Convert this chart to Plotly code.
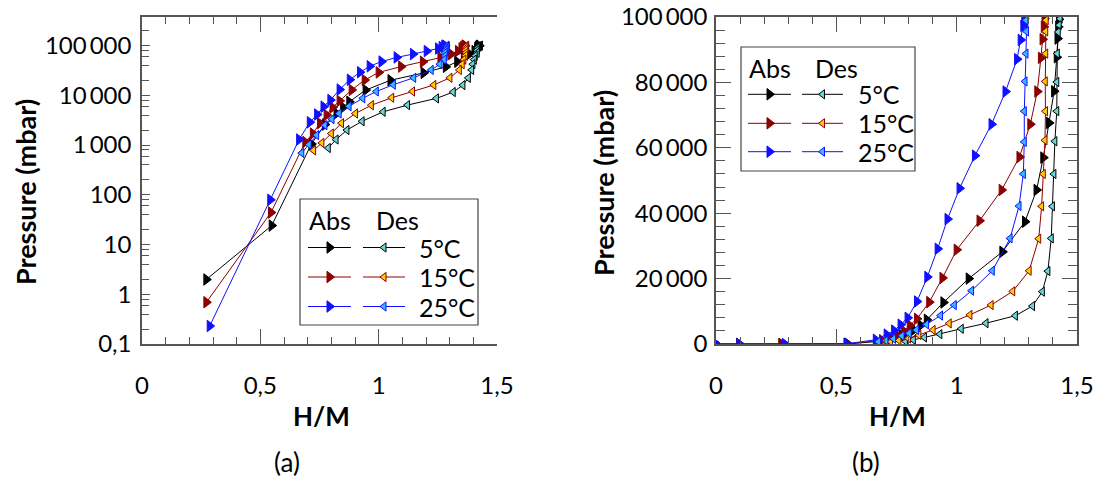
import plotly.graph_objects as go

W, H = 1095, 477
FONT = "Lato"

# ---------------- data (H/M, pressure in mbar) ----------------
abs5_x = [0.0, 0.097, 0.272, 0.548, 0.716, 0.773, 0.822, 0.850, 0.876, 0.945, 1.050, 1.190, 1.284, 1.332, 1.360, 1.384, 1.405, 1.416, 1.419, 1.422, 1.425]
abs5_p = [0, 0, 1.98, 24, 1050, 2570, 4300, 5700, 7400, 12700, 20000, 28200, 37400, 47100, 57000, 67600, 77300, 87700, 93400, 97000, 99300]

abs15_x = [0.0, 0.097, 0.272, 0.545, 0.690, 0.722, 0.752, 0.780, 0.805, 0.835, 0.886, 0.941, 1.000, 1.095, 1.187, 1.261, 1.306, 1.335, 1.350, 1.357, 1.362, 1.365]
abs15_p = [0, 0, 0.69, 44, 1150, 1700, 2750, 4000, 5700, 7700, 12800, 20200, 28800, 37700, 47100, 57200, 67200, 77200, 87500, 93200, 97000, 99500]

abs25_x = [0.0, 0.097, 0.286, 0.542, 0.664, 0.709, 0.740, 0.767, 0.796, 0.835, 0.878, 0.921, 0.962, 1.012, 1.076, 1.145, 1.203, 1.251, 1.266, 1.277, 1.281]
abs25_p = [0, 0, 0.23, 79, 1290, 2870, 4100, 5900, 8000, 13000, 20500, 29100, 38200, 47600, 57600, 67200, 77200, 87100, 93000, 97300, 99500]

des5_x = [1.430, 1.426, 1.422, 1.418, 1.416, 1.416, 1.408, 1.404, 1.398, 1.393, 1.379, 1.356, 1.315, 1.244, 1.122, 1.019, 0.930, 0.866, 0.820, 0.787]
des5_p = [99500, 97500, 95400, 88800, 80100, 71200, 62000, 52000, 42100, 32300, 22300, 16000, 11600, 8650, 6350, 4650, 3000, 2000, 1290, 870]

des15_x = [1.372, 1.370, 1.370, 1.368, 1.369, 1.367, 1.360, 1.353, 1.341, 1.301, 1.233, 1.143, 1.055, 0.969, 0.902, 0.843, 0.800, 0.760, 0.725]
des15_p = [99000, 95600, 88800, 80300, 71200, 62300, 52000, 42100, 32200, 22400, 16100, 11900, 8900, 6300, 4300, 2750, 1700, 1100, 780]

des25_x = [1.288, 1.290, 1.288, 1.284, 1.281, 1.281, 1.277, 1.259, 1.222, 1.148, 1.062, 0.990, 0.933, 0.875, 0.833, 0.803, 0.773, 0.738, 0.706, 0.675]
des25_p = [99000, 95600, 88800, 80300, 71200, 61800, 52000, 42200, 32300, 22400, 16300, 11900, 8700, 6000, 4300, 3300, 2500, 1580, 1020, 690]

temps = ["5°C", "15°C", "25°C"]

x_tickvals = [0, 0.5, 1, 1.5]
x_ticktext = ["0", "0,5", "1", "1,5"]
logy_tickvals = [0.1, 1, 10, 100, 1000, 10000, 100000]
logy_ticktext = ["0,1", "1", "10", "100", "1\u2009000", "10\u2009000", "100\u2009000"]
liny_tickvals = [0, 20000, 40000, 60000, 80000, 100000]
liny_ticktext = ["0", "20\u2009000", "40\u2009000", "60\u2009000", "80\u2009000", "100\u2009000"]

# ---------------- style ----------------
BLACK, RED, BLUE = "#000000", "#8b0000", "#1010ff"
CYAN, YELLOW, LBLUE = "#66d6d6", "#ffcc00", "#33bbff"
AX = "#555555"

series = [
    (abs5_x, abs5_p, BLACK, BLACK, "triangle-right", 10),
    (abs15_x, abs15_p, RED, RED, "triangle-right", 10),
    (abs25_x, abs25_p, BLUE, BLUE, "triangle-right", 10),
    (des5_x, des5_p, BLACK, CYAN, "triangle-left", 8),
    (des15_x, des15_p, RED, YELLOW, "triangle-left", 8),
    (des25_x, des25_p, BLUE, LBLUE, "triangle-left", 8),
]

def px(xp):
    return xp / W

def py(yp):
    return 1 - yp / H

# plot frames in px
L_X0, L_X1, TOP, BOT = 142, 497, 17, 344
R_X0, R_X1 = 716, 1077

fig = go.Figure()

for xs, ps, lc, fc, sym, sz in series:
    # log panel: only positive pressures can be shown
    pos = [(a, b) for a, b in zip(xs, ps) if b > 0]
    panels = [("x", "y", [a for a, _ in pos], [b for _, b in pos]),
              ("x2", "y2", xs, ps)]
    for xa, ya, xv, yv in panels:
        fig.add_trace(go.Scatter(
            x=xv, y=yv, xaxis=xa, yaxis=ya, mode="lines+markers",
            line=dict(color=lc, width=1),
            marker=dict(symbol=sym, size=sz, color=fc, line=dict(color=lc, width=1)),
            showlegend=False, hoverinfo="skip"))

# ---------------- legends (drawn in a pixel-space overlay) ----------------
legends = [
    dict(box=(300, 199, 478, 325), head_y=220, abs_x=307, des_x=374,
         rows=[247.5, 277, 306.5], aline=(308, 351), dline=(363, 405), lab_x=417),
    dict(box=(741, 47, 915, 171), head_y=68, abs_x=747, des_x=813,
         rows=[94.3, 123.3, 151.7], aline=(748, 791), dline=(802, 843), lab_x=856),
]
abs_styles = [(BLACK, BLACK), (RED, RED), (BLUE, BLUE)]
des_styles = [(BLACK, CYAN), (RED, YELLOW), (BLUE, LBLUE)]

shapes = []
annotations = []
leg_font = dict(family=FONT, size=25, color="black")
for lg in legends:
    x0, y0, x1, y1 = lg["box"]
    shapes.append(dict(type="rect", xref="paper", yref="paper",
                       x0=px(x0), x1=px(x1), y0=py(y1), y1=py(y0),
                       line=dict(color="#444444", width=1.2), fillcolor="white", layer="below"))
    for txt, xx in (("Abs", lg["abs_x"]), ("Des", lg["des_x"])):
        annotations.append(dict(text=txt, x=px(xx), y=py(lg["head_y"]), xref="paper", yref="paper",
                                xanchor="left", yanchor="middle", showarrow=False, font=leg_font))
    for i, ry in enumerate(lg["rows"]):
        for (a, b), (lc, fc), sym, sz in ((lg["aline"], abs_styles[i], "triangle-right", 10),
                                          (lg["dline"], des_styles[i], "triangle-left", 8)):
            fig.add_trace(go.Scatter(x=[a, b], y=[ry, ry], xaxis="x5", yaxis="y5", mode="lines",
                                     line=dict(color=lc, width=1), showlegend=False, hoverinfo="skip"))
            fig.add_trace(go.Scatter(x=[(a + b) / 2], y=[ry], xaxis="x5", yaxis="y5",
                                     mode="markers",
                                     marker=dict(symbol=sym, size=sz, color=fc, line=dict(color=lc, width=1)),
                                     showlegend=False, hoverinfo="skip"))
        annotations.append(dict(text=temps[i], x=px(lg["lab_x"]), y=py(ry), xref="paper", yref="paper",
                                xanchor="left", yanchor="middle", showarrow=False, font=leg_font))

# axis titles and captions
for txt, xp, yp, ang, fnt in [
    ("<b>Pressure (mbar)</b>", 25, 192, -90, dict(family=FONT, size=27, color="black")),
    ("<b>Pressure (mbar)</b>", 603, 183, -90, dict(family=FONT, size=27, color="black")),
    ("<b>H/M</b>", 321, 416, 0, dict(family=FONT, size=26, color="black")),
    ("<b>H/M</b>", 897, 416, 0, dict(family=FONT, size=26, color="black")),
    ("(a)", 287, 462, 0, dict(family=FONT, size=26, color="black")),
    ("(b)", 866, 462, 0, dict(family=FONT, size=26, color="black")),
]:
    annotations.append(dict(text=txt, x=px(xp), y=py(yp), xref="paper", yref="paper",
                            xanchor="center", yanchor="middle", showarrow=False,
                            textangle=ang, font=fnt))

tick_font = dict(family=FONT, size=24, color="black")

def xaxis_main(x0, x1, anchor):
    return dict(domain=[px(x0), px(x1)], anchor=anchor, range=[0, 1.5],
                tickmode="array", tickvals=x_tickvals, ticktext=x_ticktext,
                ticks="inside", ticklen=15, tickwidth=1, tickcolor=AX,
                minor=dict(ticks="inside", dtick=0.1, ticklen=7, tickwidth=1, tickcolor=AX),
                showline=True, linecolor=AX, linewidth=1.5, mirror="ticks",
                showgrid=False, zeroline=False, tickfont=tick_font, ticklabelstandoff=19,
                automargin=False, fixedrange=True)

def xaxis_out(over, anchor):
    return dict(overlaying=over, anchor=anchor, range=[0, 1.5],
                tickmode="array", tickvals=x_tickvals, ticks="outside", ticklen=17,
                tickwidth=1, tickcolor=AX, showticklabels=False,
                minor=dict(ticks="outside", dtick=0.1, ticklen=6, tickwidth=1, tickcolor=AX),
                showline=False, showgrid=False, zeroline=False, automargin=False, fixedrange=True)

log_minor = [m * 10.0 ** e for e in range(-1, 6) for m in (2, 4, 6, 8)]

fig.update_layout(
    width=W, height=H, autosize=False,
    margin=dict(l=0, r=0, t=0, b=0, pad=0, autoexpand=False),
    paper_bgcolor="white", plot_bgcolor="rgba(0,0,0,0)",
    showlegend=False,
    xaxis=xaxis_main(L_X0, L_X1, "y"),
    xaxis2=xaxis_main(R_X0, R_X1, "y2"),
    xaxis3=xaxis_out("x", "y"),
    xaxis4=xaxis_out("x2", "y2"),
    yaxis=dict(domain=[py(BOT), py(TOP)], anchor="x", type="log", range=[-1, 5.573],
               tickmode="array", tickvals=logy_tickvals, ticktext=logy_ticktext,
               ticks="inside", ticklen=8, tickwidth=1, tickcolor=AX,
               minor=dict(ticks="inside", tickvals=log_minor, ticklen=7, tickwidth=1, tickcolor=AX),
               showline=True, linecolor=AX, linewidth=1.5, mirror=False,
               showgrid=False, zeroline=False, tickfont=tick_font, ticklabelstandoff=4,
               automargin=False, fixedrange=True),
    yaxis3=dict(overlaying="y", anchor="x", side="right", range=[0, 7],
                tickmode="linear", dtick=1, ticks="inside", ticklen=15, tickwidth=1, tickcolor=AX,
                minor=dict(ticks="inside", dtick=0.2, ticklen=8, tickwidth=1, tickcolor=AX),
                showticklabels=False, showline=True, linecolor=AX, linewidth=1.5,
                showgrid=False, zeroline=False, automargin=False, fixedrange=True),
    yaxis2=dict(domain=[py(BOT), py(TOP)], anchor="x2", range=[0, 100000],
                tickmode="array", tickvals=liny_tickvals, ticktext=liny_ticktext,
                ticks="inside", ticklen=15, tickwidth=1, tickcolor=AX,
                minor=dict(ticks="inside", dtick=4000, ticklen=9, tickwidth=1, tickcolor=AX),
                showline=True, linecolor=AX, linewidth=1.5, mirror="ticks",
                showgrid=False, zeroline=False, tickfont=tick_font, ticklabelstandoff=2,
                automargin=False, fixedrange=True),
    xaxis5=dict(domain=[0, 1], anchor="y5", range=[0, W], visible=False, fixedrange=True),
    yaxis5=dict(domain=[0, 1], anchor="x5", range=[H, 0], visible=False, fixedrange=True),
    shapes=shapes,
    annotations=annotations,
)

fig.write_html(
    "out.html",
    config={"displayModeBar": False},
    post_script="document.body.style.margin='0';document.body.style.overflow='hidden';",
)
